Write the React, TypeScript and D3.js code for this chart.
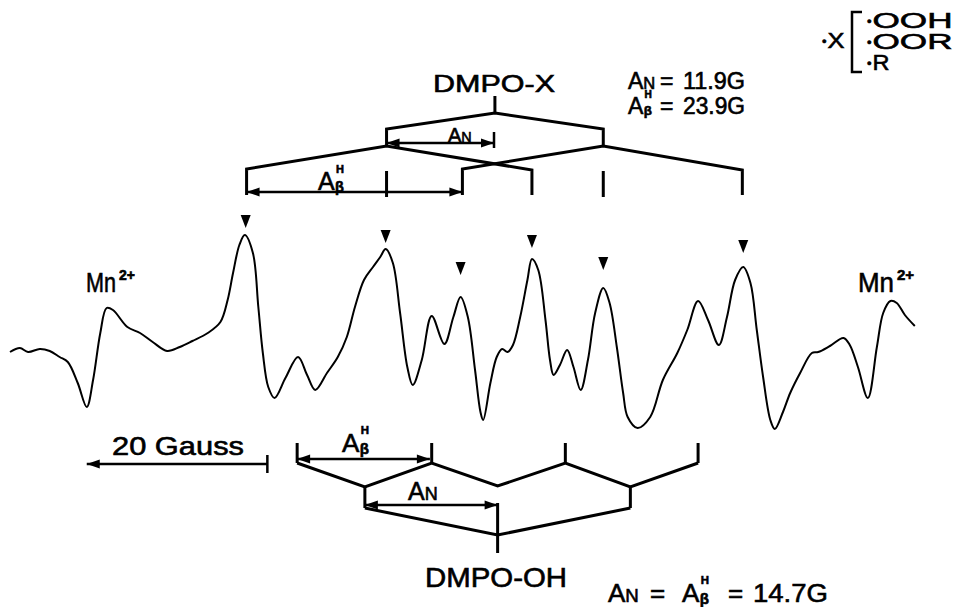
import React from 'react';
import * as d3 from 'd3';

// ESR spectrum, field in Gauss, signal in arbitrary units
const fieldG = [
  0.0, 1.1, 2.0, 3.3, 4.4, 5.5, 6.4, 7.5, 8.5, 9.2,
  10.0, 10.7, 11.4, 13.0, 14.4, 15.8, 17.4, 18.8, 20.2, 21.9,
  23.3, 24.1, 24.7, 25.4, 26.0, 26.9, 27.5, 28.0, 28.6, 29.3,
  30.5, 31.9, 32.9, 33.8, 35.1, 36.3, 37.3, 38.2, 39.2, 40.2,
  41.0, 41.6, 42.4, 43.2, 44.0, 44.6, 45.6, 46.7, 48.1, 49.1,
  49.9, 50.7, 51.5, 52.1, 52.4, 53.2, 53.9, 54.5, 55.1, 55.7,
  56.5, 57.3, 57.8, 58.5, 59.3, 59.8, 60.2, 60.9, 61.7, 62.4,
  63.2, 64.0, 64.8, 65.7, 66.4, 67.2, 67.9, 68.4, 69.5, 70.9,
  72.3, 73.9, 75.0, 76.2, 77.3, 78.5, 79.4, 80.3, 81.2, 82.0,
  82.7, 83.4, 84.2, 84.7, 85.6, 86.4, 87.5, 88.8, 89.5, 90.8,
  92.3, 93.0, 93.9, 95.0, 96.0, 96.7, 97.5, 98.2, 99.1, 100.2,
];
const signal = [
  -2, 2, -2, 1, -1, -7, -12, -33, -57, -30,
  17, 42, 40, 23, 17, 8, -1, 3, 9, 17,
  28, 50, 77, 105, 115, 97, 43, -3, -37, -48,
  -28, -7, -25, -40, -23, -7, 13, 43, 70, 83,
  93, 101, 87, 37, -17, -35, -10, 34, 6, 33,
  53, 33, -20, -62, -70, -33, -7, 1, -2, 5,
  33, 70, 91, 80, 30, -10, -25, -15, 0, -17,
  -40, -10, 37, 62, 47, 3, -43, -67, -78, -67,
  -30, -3, 20, 49, 30, 5, 33, 70, 83, 67,
  20, -27, -70, -79, -62, -43, -23, -3, -2, 4,
  12, 5, -17, -48, 3, 37, 49, 47, 35, 24,
];

// arrowheads over the DMPO-X lines
const peakMarkField = [26.1, 41.6, 49.9, 57.8, 65.7, 81.2];
const peakMarkLevel = [122, 107, 75, 102, 80, 97];

// DMPO-X stick diagram
const dmpoXCenter = 53.7;
const dmpoXLevel1 = [41.7, 65.7];
const dmpoXLevel2 = [[26.2, 57.8], [50.1, 81.1]];
const dmpoXAN = 11.9;
const dmpoXAH = 23.9;

// DMPO-OH stick diagram
const dmpoOHCenter = 54.0;
const dmpoOHLevel1 = [39.3, 68.7];
const dmpoOHLevel2 = [[31.8, 46.7], [61.5, 76.2]];
const dmpoOHAN = 14.7;
const dmpoOHAH = 14.7;

const scaleBarStart = 8.5;
const scaleBarGauss = 20;

const W = 961;
const H = 607;
const FONT = "'Liberation Sans', Arial, sans-serif";

const x = d3.scaleLinear().domain([0, 100]).range([10, 913]);
const y = d3.scaleLinear().domain([-100, 100]).range([450, 250]);

// filled arrowhead, tip at (px,py), dir -1 = left, 1 = right
function head(px: number, py: number, dir: number) {
  const L = 13, w = 4.5;
  return `M${px},${py}L${px - dir * L},${py - w}L${px - dir * L},${py + w}Z`;
}

const pts = (p: number[][]) => 'M' + p.map(d => d.join(',')).join('L');

const Arrow = ({ x1, x2, yy, left = true, right = true }: any) => (
  <g>
    <line x1={x1} x2={x2} y1={yy} y2={yy} stroke="#000" strokeWidth={2.3} />
    {left && <path d={head(x1, yy, -1)} fill="#000" />}
    {right && <path d={head(x2, yy, 1)} fill="#000" />}
  </g>
);

// A with H superscript and beta subscript
const ABeta = ({ px, py, s }: any) => (
  <g>
    <text x={px} y={py} fontSize={s}>A</text>
    <text x={px + s * 0.72} y={py - s * 0.68} fontSize={s * 0.44} fontWeight="bold">H</text>
    <text x={px + s * 0.68} y={py + s * 0.06} fontSize={s * 0.58} fontWeight="bold">β</text>
  </g>
);

const AN = ({ px, py, s }: any) => (
  <text x={px} y={py} fontSize={s}>
    A<tspan fontSize={s * 0.72}>N</tspan>
  </text>
);

// radical dot followed by a group
const Rad = ({ px, py, label, len }: any) => (
  <text x={px} y={py} fontSize={22}>
    <tspan fontSize={13} dy={-2}>•</tspan>
    <tspan dx={1} dy={2} textLength={len} lengthAdjust="spacingAndGlyphs">{label}</tspan>
  </text>
);

export default function App() {
  const spectrumLine = d3.line<number>()
    .x((_, i) => x(fieldG[i]))
    .y(d => y(d))
    .curve(d3.curveCatmullRom.alpha(0.5));

  const tree = { fill: 'none', stroke: '#000', strokeWidth: 3, strokeLinejoin: 'miter' as const };

  // DMPO-OH zigzag: top at level2 lines, low at level1 and centre
  const zig = [...dmpoOHLevel2.flat().map(f => [f, 463]), ...dmpoOHLevel1.map(f => [f, 487]), [dmpoOHCenter, 486]]
    .sort((a, b) => a[0] - b[0])
    .map(d => [x(d[0]), d[1]]);

  return (
    <svg width={W} height={H} style={{ position: 'absolute', left: 0, top: 0, background: '#fff' }}>
      {/* spectrum */}
      <path d={spectrumLine(signal) || ''} fill="none" stroke="#000" strokeWidth={2} />

      {peakMarkField.map((f, i) => {
        const px = x(f), py = y(peakMarkLevel[i]);
        return <path key={i} d={`M${px},${py}L${px - 5},${py - 13}L${px + 5},${py - 13}Z`} fill="#000" />;
      })}

      {/* DMPO-X tree */}
      <line x1={x(dmpoXCenter)} x2={x(dmpoXCenter)} y1={96} y2={113} stroke="#000" strokeWidth={3} />
      <path {...tree} d={pts([[x(dmpoXLevel1[0]), 146], [x(dmpoXLevel1[0]), 129], [x(dmpoXCenter), 113],
        [x(dmpoXLevel1[1]), 129], [x(dmpoXLevel1[1]), 146]])} />
      {dmpoXLevel1.map((f, i) => (
        <path key={i} {...tree} d={pts([[x(dmpoXLevel2[i][0]), 195], [x(dmpoXLevel2[i][0]), 169], [x(f), 146],
          [x(dmpoXLevel2[i][1]), 170], [x(dmpoXLevel2[i][1]), 195]])} />
      ))}
      {dmpoXLevel1.map((f, i) => (
        <line key={i} x1={x(f)} x2={x(f)} y1={171} y2={197} stroke="#000" strokeWidth={3} />
      ))}
      <Arrow x1={x(dmpoXLevel1[0])} x2={x(dmpoXLevel1[0] + dmpoXAN)} yy={143} />
      <line x1={x(dmpoXLevel1[0] + dmpoXAN)} x2={x(dmpoXLevel1[0] + dmpoXAN)} y1={132} y2={148} stroke="#000" strokeWidth={2.5} />
      <Arrow x1={x(dmpoXLevel2[0][0])} x2={x(dmpoXLevel2[0][0] + dmpoXAH)} yy={192} />

      {/* DMPO-OH tree */}
      {dmpoOHLevel2.flat().map((f, i) => (
        <line key={i} x1={x(f)} x2={x(f)} y1={443} y2={463} stroke="#000" strokeWidth={3} />
      ))}
      <path {...tree} d={pts(zig)} />
      {dmpoOHLevel1.map((f, i) => (
        <line key={i} x1={x(f)} x2={x(f)} y1={487} y2={508} stroke="#000" strokeWidth={3} />
      ))}
      <path {...tree} d={pts([[x(dmpoOHLevel1[0]), 508], [x(dmpoOHCenter), 535], [x(dmpoOHLevel1[1]), 508]])} />
      <line x1={x(dmpoOHCenter)} x2={x(dmpoOHCenter)} y1={503} y2={553} stroke="#000" strokeWidth={3} />
      <Arrow x1={x(dmpoOHLevel2[0][0])} x2={x(dmpoOHLevel2[0][0] + dmpoOHAH)} yy={459} />
      <Arrow x1={x(dmpoOHLevel1[0])} x2={x(dmpoOHLevel1[0] + dmpoOHAN)} yy={505} />

      {/* scale bar */}
      <Arrow x1={x(scaleBarStart)} x2={x(scaleBarStart + scaleBarGauss)} yy={464} right={false} />
      <line x1={x(scaleBarStart + scaleBarGauss)} x2={x(scaleBarStart + scaleBarGauss)} y1={455} y2={473} stroke="#000" strokeWidth={2.5} />

      {/* lettering */}
      <g fontFamily={FONT} fill="#000" stroke="#000" strokeWidth={0.6}>
        <AN px={448} py={142} s={20} />
        <ABeta px={318} py={190} s={25} />
        <text x={494} y={92} fontSize={24} textAnchor="middle" textLength={122} lengthAdjust="spacingAndGlyphs">DMPO-X</text>

        <AN px={628} py={89} s={23} />
        <text x={660} y={89} fontSize={23}>=</text>
        <text x={683} y={89} fontSize={23} textLength={62} lengthAdjust="spacingAndGlyphs">11.9G</text>
        <ABeta px={628} py={114} s={23} />
        <text x={660} y={114} fontSize={23}>=</text>
        <text x={683} y={114} fontSize={23} textLength={62} lengthAdjust="spacingAndGlyphs">23.9G</text>

        <Rad px={822} py={48} label="X" len={17} />
        <Rad px={867} py={28} label="OOH" len={80} />
        <Rad px={867} py={49} label="OOR" len={80} />
        <Rad px={867} py={70} label="R" len={17} />

        <text x={86} y={292} fontSize={27} textLength={30} lengthAdjust="spacingAndGlyphs">Mn</text>
        <text x={119} y={280} fontSize={14} fontWeight="bold">2+</text>
        <text x={858} y={292} fontSize={28} textLength={36} lengthAdjust="spacingAndGlyphs">Mn</text>
        <text x={897} y={280} fontSize={15} fontWeight="bold">2+</text>

        <text x={112} y={455} fontSize={26} textLength={132} lengthAdjust="spacingAndGlyphs">20 Gauss</text>

        <ABeta px={342} py={452} s={26} />
        <AN px={408} py={500} s={25} />
        <text x={496} y={587} fontSize={27} textAnchor="middle" textLength={142} lengthAdjust="spacingAndGlyphs">DMPO-OH</text>

        <AN px={608} py={602} s={26} />
        <text x={650} y={602} fontSize={26}>=</text>
        <ABeta px={682} py={602} s={26} />
        <text x={728} y={602} fontSize={26}>=</text>
        <text x={753} y={602} fontSize={26} textLength={75} lengthAdjust="spacingAndGlyphs">14.7G</text>
      </g>
      <path d="M862,12H852V72H862" fill="none" stroke="#000" strokeWidth={2.5} />
    </svg>
  );
}
